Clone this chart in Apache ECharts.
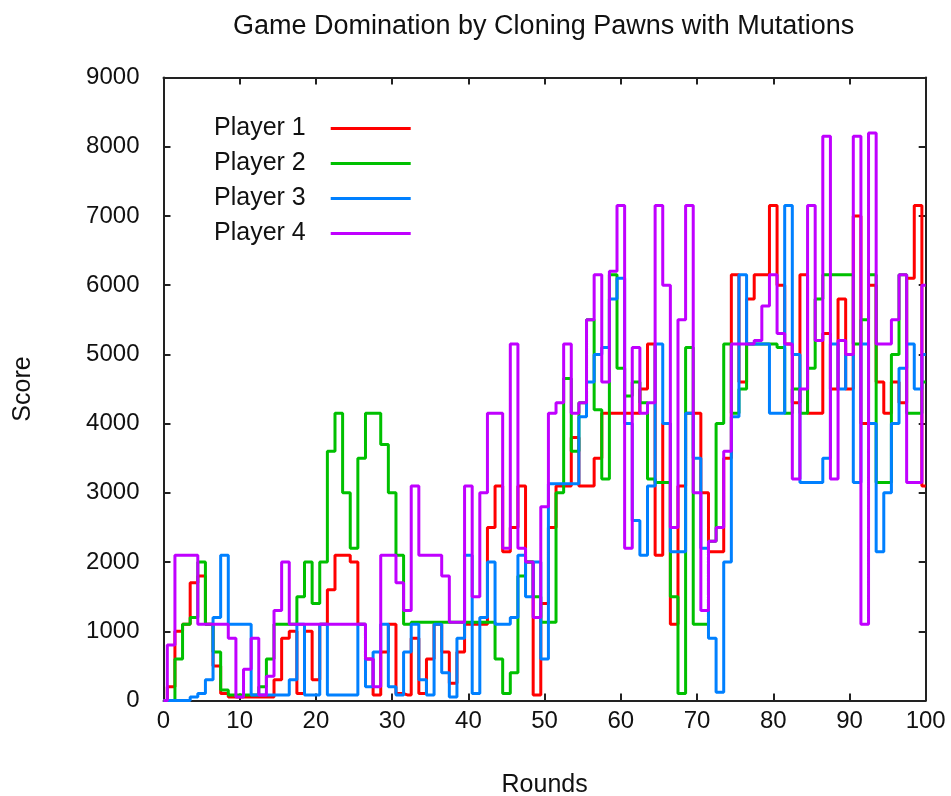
<!DOCTYPE html>
<html>
<head>
<meta charset="utf-8">
<title>Game Domination by Cloning Pawns with Mutations</title>
<script src="https://cdn.jsdelivr.net/npm/echarts@6/dist/echarts.min.js"></script>
<style>
  html, body { margin: 0; padding: 0; background: #ffffff; }
  #chart { width: 951px; height: 796px; }
</style>
</head>
<body>
<div id="chart"></div>
<script>
// Score of each player after every round (rounds 0..100)
const player1 = [
  0, 200, 1000, 1100, 1700, 1800, 1100, 500, 100, 50,
  50, 50, 50, 50, 50, 300, 900, 1000, 100, 1000,
  300, 1100, 1600, 2100, 2100, 2000, 1100, 600, 80, 700,
  1100, 100, 80, 900, 100, 600, 1100, 700, 250, 700,
  1100, 1100, 1100, 2500, 3100, 2150, 2500, 3100, 2000, 80,
  1400, 2500, 3100, 3100, 3800, 3100, 3100, 3500, 4150, 4150,
  4150, 4150, 4150, 4500, 5150, 2100, 4000, 1100, 3100, 4150,
  4150, 3000, 2150, 2150, 3500, 6150, 4600, 5800, 6150, 6150,
  7150, 6000, 5150, 4300, 6150, 4150, 4150, 5300, 4500, 5800,
  4500, 7000, 4000, 6000, 4600, 4150, 4600, 4300, 6100, 7150,
  3100
];
const player2 = [
  0, 0, 600, 1100, 1200, 2000, 1100, 700, 150, 80,
  80, 80, 80, 200, 600, 1100, 1100, 1100, 1500, 2000,
  1400, 2000, 3600, 4150, 3000, 2200, 3500, 4150, 4150, 3700,
  3000, 2100, 1100, 1130, 1130, 1130, 1130, 1130, 1130, 1130,
  1130, 1130, 1130, 1130, 600, 100, 400, 1800, 2000, 1500,
  1130, 1130, 3000, 4650, 3600, 4300, 5500, 4200, 3200, 6150,
  4800, 4400, 4600, 4300, 3200, 3150, 3150, 1500, 100, 5100,
  1100, 1100, 2300, 4000, 5150, 4150, 4500, 5150, 5150, 5150,
  5150, 5100, 4150, 4500, 4150, 4800, 5800, 6150, 6150, 6150,
  6150, 5150, 5500, 6150, 3150, 3150, 5000, 6150, 4150, 4150,
  4600
];
const player3 = [
  0, 0, 0, 0, 50, 100, 300, 1200, 2100, 1100,
  1100, 1100, 80, 80, 80, 80, 80, 300, 1100, 80,
  80, 1100, 80, 80, 80, 80, 1100, 200, 700, 1100,
  200, 80, 700, 1100, 300, 80, 1100, 400, 50, 900,
  2100, 100, 1200, 2000, 1100, 1100, 1200, 2100, 1500, 2000,
  600, 3130, 3130, 3130, 3130, 4100, 4600, 5000, 5100, 5800,
  6100, 4000, 2600, 2100, 3100, 5150, 4000, 2150, 2150, 4150,
  3500, 2200, 900, 120, 2000, 4100, 6150, 5150, 5150, 5150,
  4150, 4150, 7150, 5000, 3150, 3150, 3150, 3500, 5150, 4500,
  5000, 3150, 5150, 4000, 2150, 3000, 4000, 4800, 5150, 4500,
  5000
];
const player4 = [
  0, 800, 2100, 2100, 2100, 1100, 1100, 1100, 1100, 900,
  50, 450, 900, 80, 350, 1300, 2000, 1100, 1100, 1100,
  1100, 1100, 1100, 1100, 1100, 1100, 1100, 600, 200, 2100,
  2100, 1700, 1300, 3100, 2100, 2100, 2100, 1800, 1130, 1130,
  3100, 1500, 3000, 4150, 4150, 2200, 5150, 2200, 2000, 1200,
  2800, 4150, 4300, 5150, 4150, 4300, 5500, 6150, 4600, 6200,
  7150, 2200, 5100, 4150, 4300, 7150, 6000, 2500, 5500, 7150,
  3000, 1300, 2300, 2500, 3600, 5150, 5150, 5150, 5200, 5700,
  6150, 5300, 5150, 3200, 4500, 7150, 5200, 8150, 3200, 5200,
  5000, 8150, 1100, 8200, 5150, 5150, 5500, 6150, 3150, 3150,
  6000
];

const seriesNames = ['Player 1', 'Player 2', 'Player 3', 'Player 4'];
const seriesColors = ['#ff0000', '#00c000', '#0080ff', '#c000ff'];
const seriesValues = [player1, player2, player3, player4];

const FONT = '"Liberation Sans", Arial, Helvetica, sans-serif';
const INK = '#111111';
const FRAME = '#222222';

// pair each score with its round number
const withRounds = values => values.map((v, round) => [round, v]);
// plain integers on the ticks, no grouping separators
const plain = v => String(v);

const frameAxis = {
  axisLine: { show: true, onZero: false, lineStyle: { color: FRAME, width: 2 } },
  axisTick: { show: true, inside: true, length: 7, lineStyle: { color: FRAME, width: 2 } },
  splitLine: { show: false }
};

const chart = echarts.init(document.getElementById('chart'), null, { renderer: 'canvas' });

chart.setOption({
  animation: false,
  backgroundColor: '#ffffff',
  title: {
    text: 'Game Domination by Cloning Pawns with Mutations',
    left: 228,
    top: 8,
    textStyle: { fontFamily: FONT, fontSize: 27, fontWeight: 'normal', color: INK }
  },
  legend: {
    orient: 'vertical',
    left: 214,
    top: 116,
    padding: 0,
    itemWidth: 80,
    itemHeight: 3,
    itemGap: 10,
    align: 'right',
    icon: 'rect',
    data: seriesNames,
    textStyle: { fontFamily: FONT, fontSize: 25, color: INK, padding: [0, 20, 0, 0] }
  },
  grid: {
    left: 163.5, right: 25.3, top: 77.5, bottom: 95.5,
    containLabel: false,
    outerBoundsMode: 'none'
  },
  xAxis: [
    Object.assign({
      type: 'value', min: 0, max: 100, interval: 10, position: 'bottom',
      name: 'Rounds', nameLocation: 'middle', nameGap: 72,
      nameTextStyle: { fontFamily: FONT, fontSize: 25, color: INK },
      axisLabel: { margin: 9, fontFamily: FONT, fontSize: 24, color: INK, formatter: plain }
    }, frameAxis),
    Object.assign({
      type: 'value', min: 0, max: 100, interval: 10, position: 'top',
      axisLabel: { show: false }
    }, frameAxis)
  ],
  yAxis: [
    Object.assign({
      type: 'value', min: 0, max: 9000, interval: 1000, position: 'left',
      name: 'Score', nameLocation: 'middle', nameGap: 128, nameRotate: 90,
      nameTextStyle: { fontFamily: FONT, fontSize: 25, color: INK },
      axisLabel: { margin: 24, fontFamily: FONT, fontSize: 24, color: INK, formatter: plain }
    }, frameAxis),
    Object.assign({
      type: 'value', min: 0, max: 9000, interval: 1000, position: 'right',
      axisLabel: { show: false }
    }, frameAxis)
  ],
  series: seriesValues.map((values, k) => ({
    name: seriesNames[k],
    type: 'line',
    xAxisIndex: 0,
    yAxisIndex: 0,
    step: 'middle',
    symbol: 'none',
    color: seriesColors[k],
    lineStyle: { width: 3, color: seriesColors[k] },
    data: withRounds(values)
  }))
});
</script>
</body>
</html>
